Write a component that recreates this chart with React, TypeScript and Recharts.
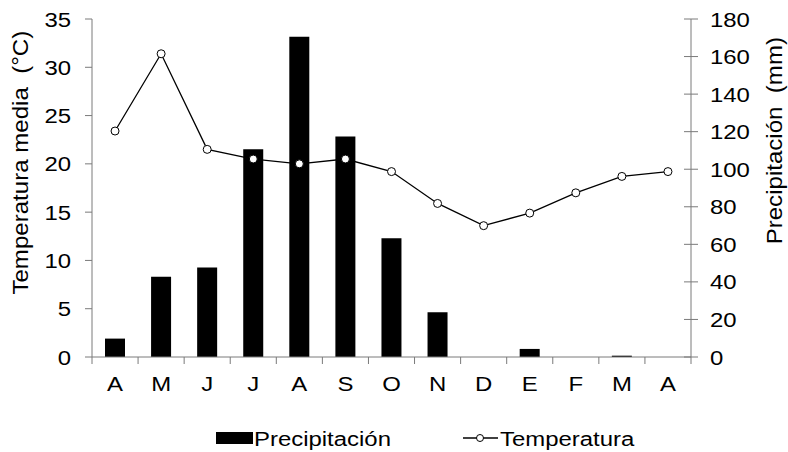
import React from 'react';
import { ComposedChart, Bar, Line, XAxis, YAxis, Legend } from 'recharts';

const months = ['A', 'M', 'J', 'J', 'A', 'S', 'O', 'N', 'D', 'E', 'F', 'M', 'A'];
const precipitation = [9.8, 42.7, 47.7, 110.7, 170.6, 117.4, 63.3, 23.8, 0, 4.3, 0, 0.7, 0];
const temperature = [23.4, 31.4, 21.5, 20.5, 20.0, 20.5, 19.2, 15.9, 13.6, 14.9, 17.0, 18.7, 19.2];
const tempTicks = [0, 5, 10, 15, 20, 25, 30, 35];
const precTicks = [0, 20, 40, 60, 80, 100, 120, 140, 160, 180];

const data = months.map((m, i) => ({ idx: i, month: m, prec: precipitation[i], temp: temperature[i] }));

const FONT = '"Liberation Sans", Arial, sans-serif';
const AXIS_COLOR = '#7a7a7a';
const FS = 21;
const SX = 1.14;
const TITLE_FS = 22.5;
const TITLE_SX = 1.07;
const TS = 7;
const TM = 12;

type STProps = {
  x: number;
  y: number;
  anchor?: 'start' | 'middle' | 'end';
  rotate?: number;
  sx?: number;
  fs?: number;
  children: React.ReactNode;
};

const StretchText = ({ x, y, anchor = 'start', rotate = 0, sx = SX, fs = FS, children }: STProps) => (
  <text
    transform={`translate(${x},${y}) rotate(${rotate}) scale(${sx},1)`}
    x={0}
    y={0}
    textAnchor={anchor}
    fill="#000"
    fontSize={fs}
    fontFamily={FONT}
    style={{ whiteSpace: 'pre' }}
  >
    {children}
  </text>
);

const XTick = (props: any) => {
  const { x, y, payload, index, visibleTicksCount } = props;
  const half = payload && typeof payload.offset === 'number' ? payload.offset : 23;
  const axisY = y - TS - TM;
  const last = index === visibleTicksCount - 1;
  return (
    <g>
      <line x1={x - half} x2={x - half} y1={axisY} y2={axisY + TS} stroke={AXIS_COLOR} strokeWidth={1} />
      {last && <line x1={x + half} x2={x + half} y1={axisY} y2={axisY + TS} stroke={AXIS_COLOR} strokeWidth={1} />}
      <StretchText x={x} y={axisY + 34} anchor="middle">
        {payload.value}
      </StretchText>
    </g>
  );
};

const LTick = (props: any) => {
  const { x, y, payload } = props;
  return (
    <StretchText x={x} y={y + FS * 0.358} anchor="end">
      {payload.value}
    </StretchText>
  );
};

const RTick = (props: any) => {
  const { x, y, payload } = props;
  const axisX = x - TS - TM;
  return (
    <g>
      <line x1={axisX - TS} x2={axisX + TS} y1={y} y2={y} stroke={AXIS_COLOR} strokeWidth={1} />
      <StretchText x={x} y={y + FS * 0.358} anchor="start">
        {payload.value}
      </StretchText>
    </g>
  );
};

const LeftTitle = (props: any) => {
  const vb = props.viewBox || {};
  const bx = vb.x - 4;
  const cy = vb.y + vb.height * 0.425;
  return (
    <StretchText x={bx} y={cy} anchor="middle" rotate={-90} sx={TITLE_SX} fs={TITLE_FS}>
      {'Temperatura media  (°C)'}
    </StretchText>
  );
};

const RightTitle = (props: any) => {
  const vb = props.viewBox || {};
  const bx = vb.x + 91;
  const cy = vb.y + vb.height * 0.36;
  return (
    <StretchText x={bx} y={cy} anchor="middle" rotate={-90} sx={TITLE_SX} fs={TITLE_FS}>
      {'Precipitación  (mm)'}
    </StretchText>
  );
};

const LegendContent = () => (
  <svg width={788} height={30} style={{ display: 'block' }}>
    <rect x={216} y={8} width={37} height={12} fill="#000" />
    <StretchText x={254} y={21.5}>Precipitación</StretchText>
    <line x1={463} x2={498} y1={14} y2={14} stroke="#000" strokeWidth={1.3} />
    <circle cx={480} cy={14} r={3.5} fill="#fff" stroke="#000" strokeWidth={1} />
    <StretchText x={500} y={21.5}>Temperatura</StretchText>
  </svg>
);

export default function App() {
  return (
    <div style={{ position: 'absolute', left: 0, top: 0, width: 788, height: 452, background: '#fff' }}>
      <ComposedChart width={788} height={452} data={data} margin={{ top: 19, right: 37, left: 32, bottom: 35 }}>
        <XAxis
          dataKey="month"
          xAxisId="x"
          height={30}
          tickLine={false}
          tickSize={TS}
          tickMargin={TM}
          axisLine={{ stroke: AXIS_COLOR }}
          tick={<XTick />}
          interval={0}
        />
        <YAxis
          yAxisId="temp"
          orientation="left"
          width={60}
          domain={[0, 35]}
          ticks={tempTicks}
          tickSize={TS}
          tickMargin={14}
          tickLine={{ stroke: AXIS_COLOR }}
          axisLine={{ stroke: AXIS_COLOR }}
          tick={<LTick />}
          interval={0}
          label={<LeftTitle />}
        />
        <YAxis
          yAxisId="prec"
          orientation="right"
          width={60}
          domain={[0, 180]}
          ticks={precTicks}
          tickSize={TS}
          tickMargin={TM}
          tickLine={false}
          axisLine={{ stroke: AXIS_COLOR }}
          tick={<RTick />}
          interval={0}
          label={<RightTitle />}
        />
        <Bar dataKey="prec" xAxisId="x" yAxisId="prec" fill="#000" barSize={20} isAnimationActive={false} />
        <Line
          dataKey="temp"
          xAxisId="x"
          yAxisId="temp"
          stroke="#000"
          strokeWidth={1.3}
          dot={{ r: 4, fill: '#fff', stroke: '#000', strokeWidth: 1 }}
          activeDot={false}
          isAnimationActive={false}
        />
        <Legend
          verticalAlign="bottom"
          height={30}
          content={<LegendContent />}
          wrapperStyle={{ top: 424, left: 0, width: 788 }}
        />
      </ComposedChart>
    </div>
  );
}
